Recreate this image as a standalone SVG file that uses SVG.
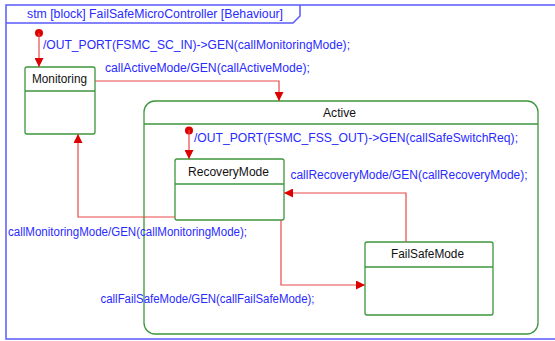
<svg xmlns="http://www.w3.org/2000/svg" width="555" height="341" viewBox="0 0 555 341">
<style>
.frame{fill:none;stroke:#5a5aff;stroke-width:1.5}
.st{fill:#fff;stroke:#3c963c;stroke-width:1.3}
.sep{stroke:#3c963c;stroke-width:1.3}
.name{font-family:"Liberation Sans",Arial,sans-serif;font-size:12px;fill:#111}
.lbl{font-family:"Liberation Sans",Arial,sans-serif;font-size:12px;fill:#2a2aff}
.tr{fill:none;stroke:#e84848;stroke-width:1.2}
.init{fill:#dd0000}
</style>
<defs>
<marker id="ah" viewBox="0 0 10 10" refX="10" refY="5" markerWidth="9" markerHeight="9" markerUnits="userSpaceOnUse" orient="auto">
<path d="M0,0 L10,5 L0,10 z" fill="#dd0000"/>
</marker>
</defs>
<rect width="555" height="341" fill="#fff"/>
<g id="frame">
<path class="frame" d="M560,5 H6 V339 H560"/>
<path class="frame" d="M6,23 H293 L300,16 V5"/>
<text class="lbl" x="27" y="18" textLength="256" lengthAdjust="spacingAndGlyphs">stm [block] FailSafeMicroController [Behaviour]</text>
</g>
<g id="Active">
<rect class="st" x="144" y="101" width="394" height="233" rx="11"/>
<line class="sep" x1="144" y1="124" x2="538" y2="124"/>
<text class="name" x="323" y="117" textLength="33" lengthAdjust="spacingAndGlyphs">Active</text>
</g>
<g id="Monitoring">
<rect class="st" x="25" y="67" width="70" height="67" rx="2"/>
<line class="sep" x1="25" y1="91" x2="95" y2="91"/>
<text class="name" x="32" y="83" textLength="55" lengthAdjust="spacingAndGlyphs">Monitoring</text>
</g>
<g id="RecoveryMode">
<rect class="st" x="175" y="159" width="109" height="61" rx="2"/>
<line class="sep" x1="175" y1="184" x2="284" y2="184"/>
<text class="name" x="188" y="176" textLength="81" lengthAdjust="spacingAndGlyphs">RecoveryMode</text>
</g>
<g id="FailSafeMode">
<rect class="st" x="365" y="242" width="128" height="73" rx="2"/>
<line class="sep" x1="365" y1="267" x2="493" y2="267"/>
<text class="name" x="391" y="258" textLength="73" lengthAdjust="spacingAndGlyphs">FailSafeMode</text>
</g>
<g id="init1"><circle class="init" cx="39" cy="33" r="4"/></g>
<g id="init2"><circle class="init" cx="189" cy="130.5" r="4"/></g>
<g id="connectors">
<path class="tr" d="M39,33 V67" marker-end="url(#ah)"/>
<path class="tr" d="M95,81 H279 V101" marker-end="url(#ah)"/>
<path class="tr" d="M189,130 V159" marker-end="url(#ah)"/>
<path class="tr" d="M175,217 H78 V134" marker-end="url(#ah)"/>
<path class="tr" d="M281,220 V285 H365" marker-end="url(#ah)"/>
<path class="tr" d="M406,242 V193 H284" marker-end="url(#ah)"/>
</g>
<g id="labels">
<text class="lbl" x="43" y="49" textLength="307" lengthAdjust="spacingAndGlyphs">/OUT_PORT(FSMC_SC_IN)-&gt;GEN(callMonitoringMode);</text>
<text class="lbl" x="105" y="72" textLength="205" lengthAdjust="spacingAndGlyphs">callActiveMode/GEN(callActiveMode);</text>
<text class="lbl" x="194" y="142" textLength="324" lengthAdjust="spacingAndGlyphs">/OUT_PORT(FSMC_FSS_OUT)-&gt;GEN(callSafeSwitchReq);</text>
<text class="lbl" x="290.5" y="179" textLength="237" lengthAdjust="spacingAndGlyphs">callRecoveryMode/GEN(callRecoveryMode);</text>
<text class="lbl" x="8" y="236" textLength="239" lengthAdjust="spacingAndGlyphs">callMonitoringMode/GEN(callMonitoringMode);</text>
<text class="lbl" x="100.5" y="303" textLength="214" lengthAdjust="spacingAndGlyphs">callFailSafeMode/GEN(callFailSafeMode);</text>
</g>
</svg>
